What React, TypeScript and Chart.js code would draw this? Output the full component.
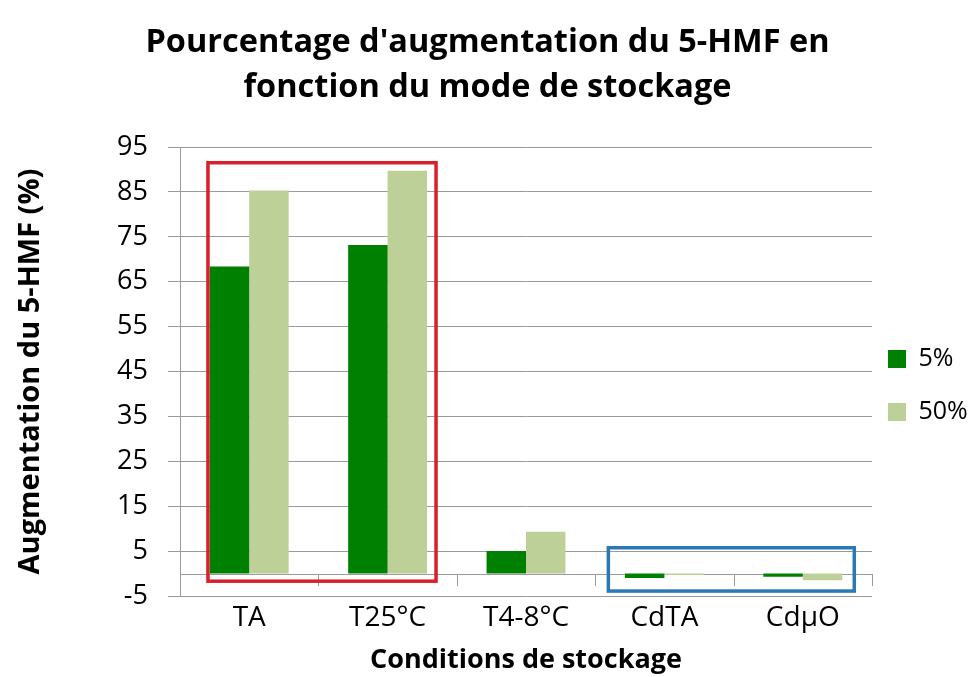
import React, { useEffect, useRef } from 'react';
import { Chart, registerables } from 'chart.js';

Chart.register(...registerables);

// ---- data ----
const categories = ['TA', 'T25°C', 'T4-8°C', 'CdTA', 'CdµO'];
const seriesLabels = ['5%', '50%'];
const values5 = [68.4, 73.2, 5.0, -1.0, -0.7];
const values50 = [85.3, 89.7, 9.3, -0.35, -1.5];
const yTicksMin = -5;
const yTicksMax = 95;
const yTicksStep = 10;
const titleLines = ["Pourcentage d'augmentation du 5-HMF en", 'fonction du mode de stockage'];
const yAxisTitle = 'Augmentation du 5-HMF (%)';
const xAxisTitle = 'Conditions de stockage';

const FONT = "'Open Sans', sans-serif";
const GRID = '#9a9a9a';

const overlayPlugin = {
  id: 'overlay',
  afterLayout(chart: any) {
    const lg = chart.legend;
    if (lg) {
      const dx = 860 - lg.left;
      const dy = 318.5 - lg.top;
      lg.left += dx; lg.right += dx; lg.top += dy; lg.bottom += dy;
    }
  },
  beforeDatasetsDraw(chart: any) {
    const { ctx, chartArea, scales } = chart;
    const xs = scales.x, ys = scales.y;
    const y0 = ys.getPixelForValue(0);
    const cw = xs.getPixelForValue(1) - xs.getPixelForValue(0);
    ctx.save();
    ctx.strokeStyle = GRID;
    ctx.lineWidth = 1;
    ctx.beginPath();
    ctx.moveTo(chartArea.left, Math.round(y0) + 0.5);
    ctx.lineTo(chartArea.right, Math.round(y0) + 0.5);
    for (let i = 0; i <= categories.length; i++) {
      const x = Math.round(xs.getPixelForValue(0) + (i - 0.5) * cw) + 0.5;
      ctx.moveTo(x, Math.round(y0));
      ctx.lineTo(x, Math.round(y0) + 12);
    }
    ctx.stroke();
    ctx.restore();
  },
  afterDatasetsDraw(chart: any) {
    const { ctx, scales } = chart;
    const xs = scales.x, ys = scales.y;
    const cw = xs.getPixelForValue(1) - xs.getPixelForValue(0);
    const box = (i0: number, i1: number, lo: number, hi: number, top: number, bottom: number, color: string) => {
      const l = xs.getPixelForValue(i0) + lo * cw;
      const r = xs.getPixelForValue(i1) + hi * cw;
      const t = ys.getPixelForValue(top);
      const b = ys.getPixelForValue(bottom);
      ctx.save();
      ctx.strokeStyle = color;
      ctx.lineWidth = 3.5;
      ctx.strokeRect(l, t, r - l, b - t);
      ctx.restore();
    };
    box(0, 1, -0.298, 0.35, 91.5, -1.7, '#d9202a');
    box(3, 4, -0.405, 0.372, 5.75, -3.9, '#2a78b6');
  },
};

export default function App() {
  const ref = useRef<HTMLCanvasElement | null>(null);
  useEffect(() => {
    document.body.style.margin = '0';
    if (!ref.current) return;
    const chart = new Chart(ref.current, {
      type: 'bar',
      data: {
        labels: categories,
        datasets: [
          { label: seriesLabels[0], data: values5, backgroundColor: '#008000', borderWidth: 0, yAxisID: 'y' },
          { label: seriesLabels[1], data: values50, backgroundColor: '#bdd097', borderWidth: 0, yAxisID: 'y' },
        ],
      },
      options: {
        animation: false,
        responsive: true,
        maintainAspectRatio: false,
        layout: { padding: { left: 0, right: 0, top: 0, bottom: 0 } },
        datasets: { bar: { categoryPercentage: 0.57, barPercentage: 1 } },
        plugins: {
          tooltip: { enabled: false },
          title: {
            display: true,
            text: titleLines,
            color: '#000',
            font: { family: FONT, size: 32.5, weight: 'bold', lineHeight: 1.385 },
            padding: { top: 20, bottom: 37 },
          },
          legend: {
            position: 'chartArea',
            align: 'start',
            labels: {
              boxWidth: 18,
              boxHeight: 18,
              padding: 28,
              color: '#000',
              font: { family: FONT, size: 25 },
            },
          },
        },
        scales: {
          x: {
            grid: { display: false, drawTicks: false },
            border: { display: false },
            ticks: { color: '#000', font: { family: FONT, size: 28 }, padding: 5, maxRotation: 0 },
            title: {
              display: true,
              text: xAxisTitle,
              color: '#000',
              font: { family: FONT, size: 27, weight: 'bold' },
              padding: { top: 0, bottom: 0 },
            },
            afterFit: (s: any) => { s.height = 81; },
          },
          y: {
            min: yTicksMin,
            max: yTicksMax,
            grid: { color: GRID, tickLength: 12, drawTicks: true },
            border: { display: true, color: GRID },
            ticks: {
              stepSize: yTicksStep,
              color: '#000',
              padding: 20,
              font: { family: FONT, size: 27 },
            },
            title: {
              display: true,
              text: yAxisTitle,
              color: '#000',
              font: { family: FONT, size: 29, weight: 'bold' },
              padding: { top: 13, bottom: 0 },
            },
            afterFit: (s: any) => { s.width = 180; },
          },
          legendSpace: {
            type: 'linear',
            position: 'right',
            display: true,
            grid: { display: false },
            border: { display: false },
            ticks: { display: false },
            afterFit: (s: any) => { s.width = 103; },
          },
        },
      },
      plugins: [overlayPlugin],
    } as any);
    return () => chart.destroy();
  }, []);
  return (
    <div style={{ position: 'relative', width: 975, height: 677 }}>
      <canvas ref={ref} />
    </div>
  );
}
